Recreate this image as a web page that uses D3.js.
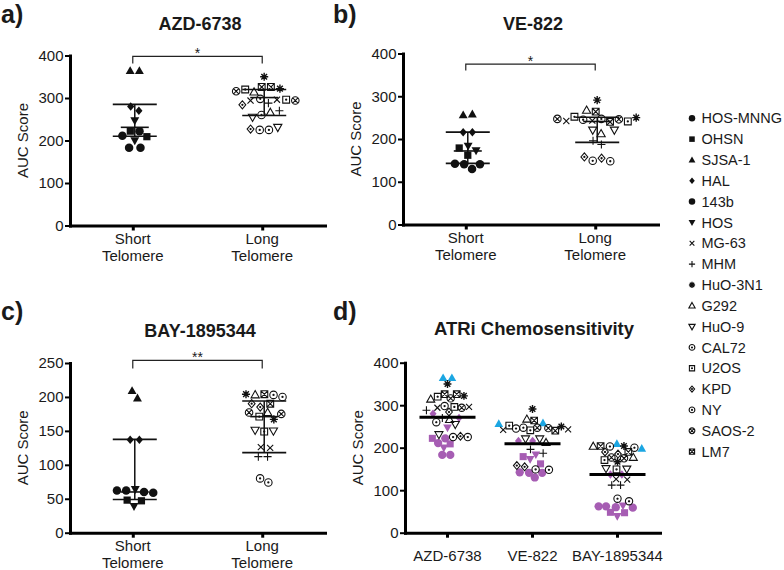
<!DOCTYPE html>
<html><head><meta charset="utf-8">
<script src="https://cdn.jsdelivr.net/npm/d3@7"></script>
<style>
body{margin:0;background:#fff}
svg{display:block}
text{font-family:"Liberation Sans",Arial,Helvetica,sans-serif;fill:#1a1a1a}
</style>
</head><body><svg id="c" width="784" height="570"></svg>
<script>
// ---------------- DATA ----------------
const cellLines = ["HOS-MNNG","OHSN","SJSA-1","HAL","143b","HOS","MG-63","MHM","HuO-3N1","G292","HuO-9","CAL72","U2OS","KPD","NY","SAOS-2","LM7"];
const markerKinds = ["dot","square","triangle","diamond","dot","triangleDown","times","plus","asterisk","triangleOpen","triangleDownOpen","circleDot","squareDot","diamondDot","circleDot","circleTimes","squareTimes"];
const shortTelomereLines = ["HOS-MNNG","OHSN","SJSA-1","HAL","143b","HOS"];
const telomereCategories = ["Short Telomere","Long Telomere"];
const drugs = ["AZD-6738","VE-822","BAY-1895344"];

// two AUC values per cell line (same order as cellLines)
const aucAZD6738 = [[222,183],[222,209],[364,364],[280,270],[211,183],[247,200],[294,296],[288,270],[350,322],[314,266],[255,231],[298,225],[320,296],[284,227],[260,225],[316,294],[326,326]];
const aucVE822   = [[141,130],[179,162],[256,258],[216,216],[142,141],[184,173],[242,243],[196,187],[291,250],[267,212],[221,221],[247,149],[252,241],[158,155],[245,148],[247,246],[264,240]];
const aucBAY1895344 = [[62,60],[48,47],[209,198],[137,137],[62,59],[64,39],[126,125],[112,112],[204,167],[203,177],[151,150],[203,74],[171,149],[190,185],[80,200],[177,175],[204,190]];

// [lower, middle, upper] summary lines per telomere group
const statsAZD6738 = [[210,231,285],[259,301,320]];
const statsVE822 = [[143,172,216],[192,241,251]];
const statsBAY1895344 = [[49,60,137.5],[118,171,194]];

const sigLabels = ["*","*","**"];
const sigBracket = [[381,398],[360,375],[242,254]]; // [foot, top]
const yTicks400 = [0,100,200,300,400];
const yTicks250 = [0,50,100,150,200,250];

// ---------------- HELPERS ----------------
const svg = d3.select("#c");
const FILLED = new Set(["dot","square","triangle","diamond","triangleDown"]);

function shapeType(kind){
  return {draw(ctx, size){
    const r = Math.sqrt(size)/2;
    const circ = rr => { ctx.moveTo(rr,0); ctx.arc(0,0,rr,0,2*Math.PI); };
    const sq = rr => { ctx.moveTo(-rr,-rr); ctx.lineTo(rr,-rr); ctx.lineTo(rr,rr); ctx.lineTo(-rr,rr); ctx.closePath(); };
    const tri = (rr,dir) => { ctx.moveTo(0,-dir*rr*1.1); ctx.lineTo(rr*1.05,dir*rr*0.75); ctx.lineTo(-rr*1.05,dir*rr*0.75); ctx.closePath(); };
    const dia = rr => { ctx.moveTo(0,-rr); ctx.lineTo(rr*0.85,0); ctx.lineTo(0,rr); ctx.lineTo(-rr*0.85,0); ctx.closePath(); };
    const ln = (a,b,c,d) => { ctx.moveTo(a,b); ctx.lineTo(c,d); };
    const dot = () => circ(Math.max(0.5, r*0.14));
    switch(kind){
      case "dot": circ(r); break;
      case "square": sq(r*0.85); break;
      case "triangle": tri(r,1); break;
      case "triangleDown": tri(r,-1); break;
      case "diamond": dia(r); break;
      case "times": { const a=r*0.72; ln(-a,-a,a,a); ln(-a,a,a,-a); break; }
      case "plus": { const a=r*0.95; ln(-a,0,a,0); ln(0,-a,0,a); break; }
      case "asterisk": { const a=r*0.95, b=a*0.7071; ln(-a,0,a,0); ln(0,-a,0,a); ln(-b,-b,b,b); ln(-b,b,b,-b); break; }
      case "triangleOpen": tri(r*0.92,1); break;
      case "triangleDownOpen": tri(r*0.92,-1); break;
      case "circleDot": circ(r*0.88); dot(); break;
      case "squareDot": sq(r*0.8); dot(); break;
      case "diamondDot": dia(r*0.95); dot(); break;
      case "circleTimes": { circ(r*0.88); const a=r*0.62; ln(-a,-a,a,a); ln(-a,a,a,-a); break; }
      case "squareTimes": { const a=r*0.8; sq(a); ln(-a,-a,a,a); ln(-a,a,a,-a); break; }
    }
  }};
}
function drawMarker(sel, kind, diam, color){
  const filled = FILLED.has(kind);
  sel.attr("d", d3.symbol(shapeType(kind), diam*diam)())
     .attr("fill", filled ? color : "none")
     .attr("stroke", filled ? "none" : color)
     .attr("stroke-width", kind==="asterisk" ? 1.4 : 1.1);
}
function pointsFor(auc){
  return cellLines.flatMap((name,i) => auc[i].map(v => ({name, kind: markerKinds[i], group: shortTelomereLines.includes(name)?0:1, value: v})));
}
function swarm(pts, cx, y, r, strength){
  const nodes = pts.map((p,i) => ({...p, x: cx + (i%2?1:-1)*(1+(i%5)), y: y(p.value), fy: y(p.value)}));
  const sim = d3.forceSimulation(nodes)
    .force("x", d3.forceX(cx).strength(strength))
    .force("c", d3.forceCollide(r).iterations(4))
    .stop();
  sim.tick(400);
  return nodes;
}
function styleAxis(g){
  g.attr("font-family", null).attr("font-size", null);
  g.select(".domain").attr("stroke","#000").attr("stroke-width",3).attr("stroke-linecap","square");
  g.selectAll(".tick line").attr("stroke","#000").attr("stroke-width",2);
  g.selectAll(".tick text").style("font-size","15px").attr("fill","#1a1a1a");
}
function yLabel(x, yc){
  svg.append("text").attr("transform", `translate(${x},${yc}) rotate(-90)`)
    .attr("text-anchor","middle").style("font-size","15px").text("AUC Score");
}

// ---------------- PANELS a-c ----------------
const panelSpecs = [
  {auc: aucAZD6738, stats: statsAZD6738, x0: 70, x1: 325, yBot: 225.5, yTop: 55.5, yMax: 400, ticks: yTicks400, letter: "a)", lx: 1, ly: 23, ty: 29.5},
  {auc: aucVE822, stats: statsVE822, x0: 403, x1: 658, yBot: 224.5, yTop: 53.5, yMax: 400, ticks: yTicks400, letter: "b)", lx: 333, ly: 23, ty: 29.5},
  {auc: aucBAY1895344, stats: statsBAY1895344, x0: 70, x1: 325, yBot: 532.7, yTop: 363, yMax: 250, ticks: yTicks250, letter: "c)", lx: 1, ly: 320, ty: 337}
];

panelSpecs.forEach((p, k) => {
  const y = d3.scaleLinear([0, p.yMax], [p.yBot, p.yTop]);
  const x = d3.scalePoint(telomereCategories, [p.x0, p.x1]).padding(0.485);
  const g = svg.append("g");

  svg.append("text").attr("x", p.lx).attr("y", p.ly).style("font-size","25px").style("font-weight","bold").text(p.letter);
  svg.append("text").attr("x", (p.x0+p.x1)/2 + 2.5).attr("y", p.ty).attr("text-anchor","middle")
     .style("font-size","18px").style("font-weight","bold").text(drugs[k]);

  telomereCategories.forEach((cat, gi) => {
    const cx = x(cat) + 2;
    const pts = pointsFor(p.auc).filter(d => d.group === gi);
    const nodes = swarm(pts, cx, y, 4.6, 0.07);
    g.selectAll(null).data(nodes).join("path")
      .attr("transform", d => `translate(${d.x},${d.y})`)
      .each(function(d){ drawMarker(d3.select(this), d.kind, 8.5, "#111"); });
    const s = p.stats[gi];
    const lines = [[s[0],22],[s[1],14],[s[2],22]];
    g.selectAll(null).data(lines).join("line")
      .attr("x1", d => cx - d[1]).attr("x2", d => cx + d[1])
      .attr("y1", d => y(d[0])).attr("y2", d => y(d[0]))
      .attr("stroke","#111").attr("stroke-width",1.6);
    g.append("line").attr("x1", cx).attr("x2", cx).attr("y1", y(s[0])).attr("y2", y(s[2]))
      .attr("stroke","#111").attr("stroke-width",1.5);
  });

  const [foot, top] = sigBracket[k];
  const xa = x(telomereCategories[0]), xb = x(telomereCategories[1]);
  svg.append("path").attr("d", `M${xa},${y(foot)}V${y(top)}H${xb}V${y(foot)}`)
     .attr("fill","none").attr("stroke","#222").attr("stroke-width",1.2);
  svg.append("text").attr("x", (xa+xb)/2).attr("y", y(top)+1.5).attr("text-anchor","middle")
     .style("font-size","14px").attr("fill","#333").text(sigLabels[k]);

  const ya = svg.append("g").attr("transform", `translate(${p.x0},0)`)
    .call(d3.axisLeft(y).tickValues(p.ticks).tickSize(5).tickSizeOuter(0).tickPadding(1.5));
  styleAxis(ya);
  const xaG = svg.append("g").attr("transform", `translate(0,${p.yBot})`)
    .call(d3.axisBottom(x).tickSize(5).tickSizeOuter(0).tickFormat(""));
  styleAxis(xaG);
  xaG.selectAll(".tick line").attr("stroke-width",3);
  telomereCategories.forEach(cat => {
    cat.split(" ").forEach((t, i) => {
      svg.append("text").attr("x", x(cat)).attr("y", p.yBot + 18.5 + i*16.5)
        .attr("text-anchor","middle").style("font-size","15px").text(t);
    });
  });
  yLabel(p.x0 - 42.5, (p.yBot + p.yTop)/2);
});

// ---------------- PANEL d ----------------
(function(){
  const yBot = 532.7, yTop = 362.7;
  const y = d3.scaleLinear([0,400],[yBot,yTop]);
  const x = d3.scaleBand(drugs, [405, 660]);
  const allAuc = [aucAZD6738, aucVE822, aucBAY1895344];
  const purple = "#a65db3", blue = "#1ba6e2";
  const colorOf = d => d.name === "SJSA-1" ? blue : (d.group === 0 ? purple : "#111");

  svg.append("text").attr("x", 333).attr("y", 320).style("font-size","25px").style("font-weight","bold").text("d)");
  svg.append("text").attr("x", 534).attr("y", 335).attr("text-anchor","middle")
     .style("font-size","18.5px").style("font-weight","bold").text("ATRi Chemosensitivity");

  const g = svg.append("g");
  drugs.forEach((drug, k) => {
    const cx = x(drug) + x.bandwidth()/2;
    const pts = pointsFor(allAuc[k]);
    const nodes = swarm(pts, cx, y, 3.7, 0.2);
    g.selectAll(null).data(nodes).join("path")
      .attr("transform", d => `translate(${d.x},${d.y})`)
      .each(function(d){ drawMarker(d3.select(this), d.kind, 8.3, colorOf(d)); });
    const m = d3.mean(pts, d => d.value);
    g.append("line").attr("x1", cx-28).attr("x2", cx+28).attr("y1", y(m)).attr("y2", y(m))
      .attr("stroke","#000").attr("stroke-width",3);
  });

  const ya = svg.append("g").attr("transform", "translate(405,0)")
    .call(d3.axisLeft(y).tickValues(yTicks400).tickSize(5).tickSizeOuter(0).tickPadding(1.5));
  styleAxis(ya);
  const xaG = svg.append("g").attr("transform", `translate(0,${yBot})`)
    .call(d3.axisBottom(x).tickSize(5).tickSizeOuter(0).tickFormat(""));
  styleAxis(xaG);
  xaG.selectAll(".tick line").attr("stroke-width",3);
  drugs.forEach(dn => {
    svg.append("text").attr("x", x(dn) + x.bandwidth()/2).attr("y", yBot + 28)
      .attr("text-anchor","middle").style("font-size","15px").text(dn);
  });
  yLabel(405 - 42.5, (yBot + yTop)/2);
})();

// ---------------- LEGEND ----------------
const leg = svg.append("g");
cellLines.forEach((name, i) => {
  const yy = 118.3 + i*20.83;
  leg.append("path").attr("transform", `translate(692,${yy})`)
    .call(s => drawMarker(s, markerKinds[i], 6.5, "#111"));
  leg.append("text").attr("x", 701.5).attr("y", yy).attr("dy","0.35em")
    .style("font-size","14.5px").text(name);
});
</script>
</body></html>
